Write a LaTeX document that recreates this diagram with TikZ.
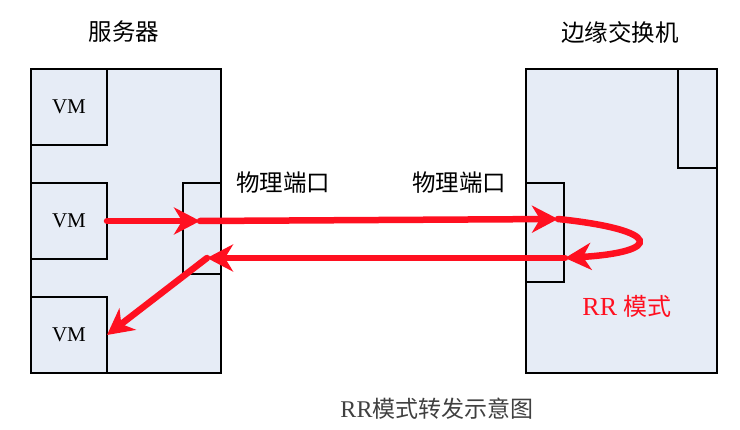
\documentclass[tikz,border=0pt]{standalone}
\usepackage{fontspec}
\setmainfont{Liberation Serif}
\newfontfamily\cjk{Noto Sans CJK SC}
\usetikzlibrary{arrows.meta}
\definecolor{boxfill}{HTML}{E6ECF6}
\definecolor{flow}{HTML}{FF1020}
\definecolor{captiongray}{HTML}{404040}
\tikzset{
  unit/.style={draw=black, line width=2pt, fill=boxfill, anchor=north west,
    inner sep=0pt, outer sep=0pt},
  vmtext/.style={font=\fontsize{21}{24}\selectfont},
  cntext/.style={font=\cjk\fontsize{23.5}{27}\selectfont, inner sep=0pt},
  flowline/.style={draw=flow, line width=6.5pt, line cap=round,
    -{Stealth[length=26pt, width=27pt, inset=8pt]}},
}
\begin{document}
\begin{tikzpicture}[x=1pt, y=-1pt]
\useasboundingbox (0,0) rectangle (740,430);

% server with three VMs and its physical port
\node[unit, minimum width=190pt, minimum height=304pt] (server) at (31,69) {};
\node[unit, minimum width=76pt, minimum height=76pt, vmtext] (vm1) at (31,69) {VM};
\node[unit, minimum width=76pt, minimum height=76pt, vmtext] (vm2) at (31,183) {VM};
\node[unit, minimum width=76pt, minimum height=76pt, vmtext] (vm3) at (31,297) {VM};
\node[unit, minimum width=38pt, minimum height=91pt] (lport) at (183,183) {};

% edge switch with its physical port
\node[unit, minimum width=191pt, minimum height=304pt] (switch) at (526,69) {};
\node[unit, minimum width=39pt, minimum height=99pt] (swtop) at (678,69) {};
\node[unit, minimum width=38pt, minimum height=99pt] (rport) at (526,183) {};

% titles and labels
\node[cntext] (t1) at (124,32) {服务器};
\node[cntext] (t2) at (620,32) {边缘交换机};
\node[cntext] (p1) at (283,183) {物理端口};
\node[cntext] (p2) at (459,183) {物理端口};
\node[text=flow, inner sep=0pt, font=\fontsize{26}{29}\selectfont] (rr) at (627,306) {RR {\cjk\fontsize{24}{28}\selectfont 模式}};
\node[text=captiongray, inner sep=0pt, font=\fontsize{24}{28}\selectfont] (cap) at (437,409) {RR{\cjk\fontsize{23}{27}\selectfont 模式转发示意图}};

% traffic path points inside the ports
\coordinate (lin) at (200,221);
\coordinate (rin) at (558,219);
\coordinate (rout) at (565,258);
\coordinate (lout) at (207,258);

% reflected traffic path
\draw[flowline] (vm2.east) -- (lin);
\draw[flowline] (lin) -- (rin);
\draw[flowline] (rin) .. controls (663,230) and (663,252) .. (rout);
\draw[flowline] (rout) -- (lout);
\draw[flowline] (lout) -- (vm3.east);
\end{tikzpicture}
\end{document}
